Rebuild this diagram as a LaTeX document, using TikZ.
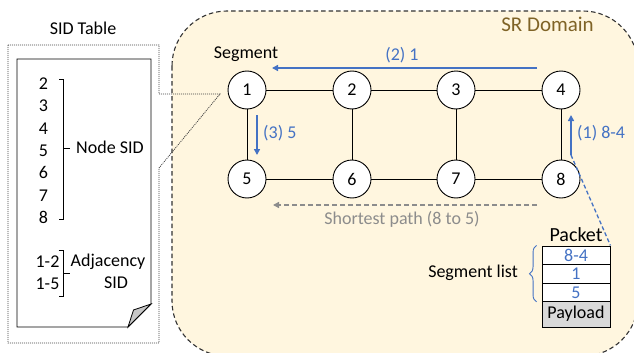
\documentclass[tikz,border=0pt]{standalone}
\usepackage{fontspec}
\setmainfont{Carlito}
\usetikzlibrary{arrows.meta,decorations.pathreplacing}
\definecolor{srfill}{HTML}{FFF6DF}
\definecolor{srtext}{HTML}{7F6326}
\definecolor{sblue}{HTML}{4472C4}
\definecolor{spath}{HTML}{8C8C8C}
\definecolor{callout}{HTML}{404040}
\tikzset{
  lbl/.style={inner sep=0pt, text height=12pt, text depth=3.5pt},
  rnode/.style={circle, draw, fill=white, line width=0.9pt, minimum size=38pt, inner sep=0pt},
  link/.style={line width=0.9pt},
  bluearrow/.style={sblue, line width=1.5pt, -{Triangle[length=6pt,width=6pt]}},
  pathdash/.style={spath, line width=1.5pt, dash pattern=on 5pt off 3pt, -{Triangle[length=6pt,width=6pt]}},
  cell/.style={draw, line width=0.9pt, fill=white, minimum width=68pt, minimum height=18.5pt, inner sep=0pt, text=sblue, text height=12pt, text depth=0pt},
  bracketline/.style={line width=0.8pt}
}
\begin{document}
\begin{tikzpicture}[x=1pt, y=-1pt, font=\fontsize{18}{21}\selectfont]
\useasboundingbox (0,0) rectangle (634,353);
\clip (0,0) rectangle (634,353);

% SR domain
\draw[fill=srfill, draw=black!80, line width=1.1pt, dash pattern=on 4.5pt off 3pt, rounded corners=55pt]
  (172,11) rectangle (638,356);
\node[lbl, anchor=east, text=srtext, font=\fontsize{21}{24}\selectfont] (dom) at (594,27) {SR Domain};

% SID table: callout frame and page
\node[lbl] (sidt) at (83,30) {SID Table};
\draw[callout, line width=0.8pt, dash pattern=on 1pt off 1pt]
  (8,45) -- (159,45) -- (159,94) -- (220,94) -- (159,168) -- (159,343) -- (8,343) -- cycle;
\draw[fill=white, line width=0.9pt] (17,59) -- (151,59) -- (151,304) -- (128,327) -- (17,327) -- cycle;
\draw[fill=black!22, line width=0.8pt] (128,327) -- (133.5,310) -- (151,304) -- cycle;

\foreach \d [count=\i from 0] in {2,...,8}
  \node[lbl, text depth=0pt] (sid\d) at (43.5,{83.5+22.3*\i}) {\d};
\draw[bracketline] (59,79) -- (63.5,79) -- (63.5,219.5) -- (59,219.5);
\draw[bracketline] (63.5,148.5) -- (70,148.5);
\node[lbl, anchor=west] (nsid) at (76,149.5) {Node SID};

\node[lbl, text depth=0pt] (a12) at (47.5,261) {1-2};
\node[lbl, text depth=0pt] (a15) at (47.5,283.5) {1-5};
\draw[bracketline] (58.5,250.5) -- (63.5,250.5) -- (63.5,296.5) -- (58.5,296.5);
\draw[bracketline] (63.5,273.5) -- (70,273.5);
\node[lbl] (adj) at (108,262) {Adjacency};
\node[lbl] (adjsid) at (116,284.5) {SID};

% routers
\node[rnode] (n1) at (247,90) {1};
\node[rnode] (n2) at (352,90) {2};
\node[rnode] (n3) at (456,90) {3};
\node[rnode] (n4) at (561,90) {4};
\node[rnode] (n5) at (247,179) {5};
\node[rnode] (n6) at (352,179) {6};
\node[rnode] (n7) at (456,179) {7};
\node[rnode] (n8) at (561,179) {8};
\draw[link] (n1) -- (n2) -- (n3) -- (n4);
\draw[link] (n5) -- (n6) -- (n7) -- (n8);
\draw[link] (n1) -- (n5);
\draw[link] (n2) -- (n6);
\draw[link] (n3) -- (n7);
\draw[link] (n4) -- (n8);
\node[lbl] (seg) at (246,54) {Segment};

% steering arrows
\coordinate (s1a) at (571,155);
\coordinate (s1b) at (571,115);
\coordinate (s2a) at (537,68);
\coordinate (s2b) at (272,68);
\coordinate (s3a) at (257,115);
\coordinate (s3b) at (257,155);
\draw[bluearrow] (s1a) -- (s1b);
\draw[bluearrow] (s2a) -- (s2b);
\draw[bluearrow] (s3a) -- (s3b);
\node[lbl, anchor=west, text=sblue] (l1) at (577,134) {(1) 8-4};
\node[lbl, text=sblue] (l2) at (402,56) {(2) 1};
\node[lbl, anchor=west, text=sblue] (l3) at (263,134) {(3) 5};

% shortest path
\coordinate (spa) at (537,205);
\coordinate (spb) at (273,205);
\draw[pathdash] (spa) -- (spb);
\node[lbl, text=spath] (spl) at (402,220) {Shortest path (8 to 5)};

% packet
\node[cell] (p1) at (576,255.2) {8-4};
\node[cell] (p2) at (576,273.7) {1};
\node[cell] (p3) at (576,292.2) {5};
\node[cell, fill=black!15, text=black, minimum height=26pt, text depth=3.5pt] (pl) at (576,314.7) {Payload};
\node[lbl, font=\fontsize{20}{24}\selectfont, anchor=south] (pk) at (p1.north) {Packet};
\draw[sblue, line width=1.3pt, dash pattern=on 4pt off 2.5pt] (s1a) -- (p1.north east);
\coordinate (bt) at ([xshift=-5pt]p1.north west);
\coordinate (bb) at ([xshift=-5pt]p3.south west);
\draw[sblue, line width=0.9pt, decorate, decoration={brace, amplitude=7pt, mirror}] (bt) -- (bb);
\node[lbl, anchor=east] (sl) at (518,273) {Segment list};
\end{tikzpicture}
\end{document}
